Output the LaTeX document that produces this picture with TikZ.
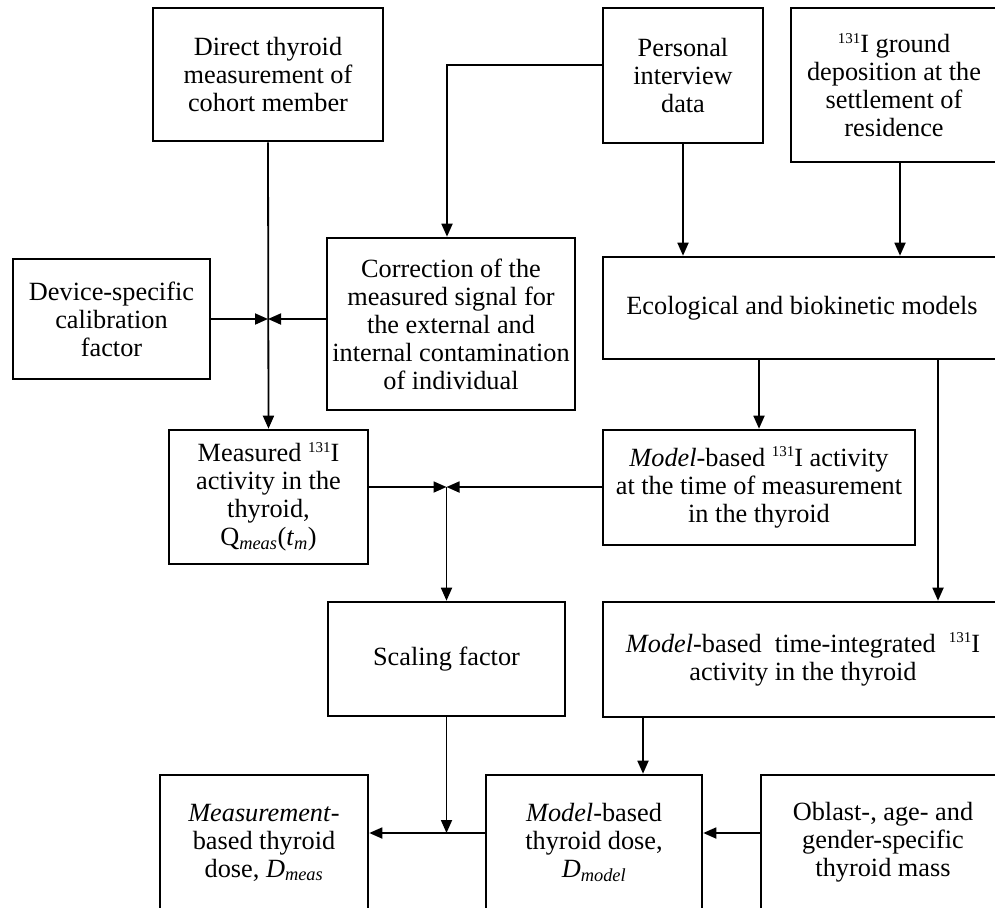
\documentclass[tikz,border=0pt]{standalone}
\usepackage{fontspec}
\setmainfont{Liberation Serif}
\usetikzlibrary{arrows.meta}
\newcommand{\isup}[1]{\raisebox{0.36em}{\fontsize{15}{15}\selectfont #1}}
\begin{document}
\begin{tikzpicture}[x=1pt,y=-1pt,
  box/.style={draw, line width=2.6pt, rectangle, align=center, inner sep=0pt,
    font=\fontsize{26.3}{28}\selectfont},
  arr/.style={line width=1.8pt, -{Triangle[length=13pt,width=11pt]}}]
\useasboundingbox (0,0) rectangle (995,907);
\clip (0,0) rectangle (995,907);
% top row
\node[box, minimum width=230pt, minimum height=133pt] (direct) at (268,74.5)
  {Direct thyroid\\measurement of\\cohort member};
\node[box, minimum width=160pt, minimum height=135pt] (personal) at (683,75.5)
  {Personal\\interview\\data};
\node[box, minimum width=206pt, minimum height=154pt] (ground) at (894,85)
  {\isup{131}I ground\\deposition at the\\settlement of\\residence};
% second row
\node[box, minimum width=197pt, minimum height=120pt] (device) at (111.5,319)
  {Device-specific\\calibration\\factor};
\node[box, minimum width=248pt, minimum height=172pt] (correction) at (451,324)
  {Correction of the\\measured signal for\\the external and\\internal contamination\\of individual};
\node[box, minimum width=398pt, minimum height=102pt] (ecological) at (802,308)
  {Ecological and biokinetic models};
% third row
\node[box, minimum width=199pt, minimum height=134pt] (measured) at (268.5,497)
  {Measured \isup{131}I\\activity in the\\thyroid,\\Q\textsubscript{\textit{meas}}(\textit{t}\textsubscript{\textit{m}})};
\node[box, minimum width=312pt, minimum height=115pt] (modelact) at (759,487.5)
  {\textit{Model}-based \isup{131}I activity\\at the time of measurement\\in the thyroid};
% fourth row
\node[box, minimum width=237pt, minimum height=114pt] (scaling) at (446.5,659)
  {Scaling factor};
\node[box, minimum width=400pt, minimum height=115pt] (timeint) at (803,659.5)
  {\textit{Model}-based\ \ time-integrated\ \ \isup{131}I\\activity in the thyroid};
% bottom row
\node[box, minimum width=208pt, minimum height=135pt] (measdose) at (264,842.5)
  {\textit{Measurement}-\\based thyroid\\dose, \textit{D}\textsubscript{\textit{meas}}};
\node[box, minimum width=216pt, minimum height=135pt] (modeldose) at (594,842.5)
  {\textit{Model}-based\\thyroid dose,\\\textit{D}\textsubscript{\textit{model}}};
\node[box, minimum width=244pt, minimum height=135pt] (oblast) at (883,842.5)
  {Oblast-, age- and\\gender-specific\\thyroid mass};
% helper coordinates
\coordinate (j1) at (268,319);
\coordinate (j2) at (446.5,487);
\coordinate (j3) at (446.5,833);
\coordinate (pc) at (447,65);
\coordinate (gx) at (900,0);
\coordinate (tx) at (938,0);
\coordinate (mx) at (643,0);
% connectors
\draw[arr] (direct.south) -- (measured.north);
\draw[arr] (device.east |- j1) -- (j1);
\draw[arr] (correction.west |- j1) -- (j1);
\draw[arr] (personal.west |- pc) -| (correction.north -| pc);
\draw[arr] (personal.south) -- (personal.south |- ecological.north);
\draw[arr] (ground.south -| gx) -- (ecological.north -| gx);
\draw[arr] (ecological.south -| modelact.north) -- (modelact.north);
\draw[arr] (ecological.south -| tx) -- (timeint.north -| tx);
\draw[arr] (measured.east |- j2) -- (j2);
\draw[arr] (modelact.west |- j2) -- (j2);
\draw[arr] (j2) -- (scaling.north);
\draw[arr] (scaling.south) -- (j3);
\draw[arr] (modeldose.west |- j3) -- (measdose.east |- j3);
\draw[arr] (timeint.south -| mx) -- (modeldose.north -| mx);
\draw[arr] (oblast.west |- j3) -- (modeldose.east |- j3);
\end{tikzpicture}
\end{document}
